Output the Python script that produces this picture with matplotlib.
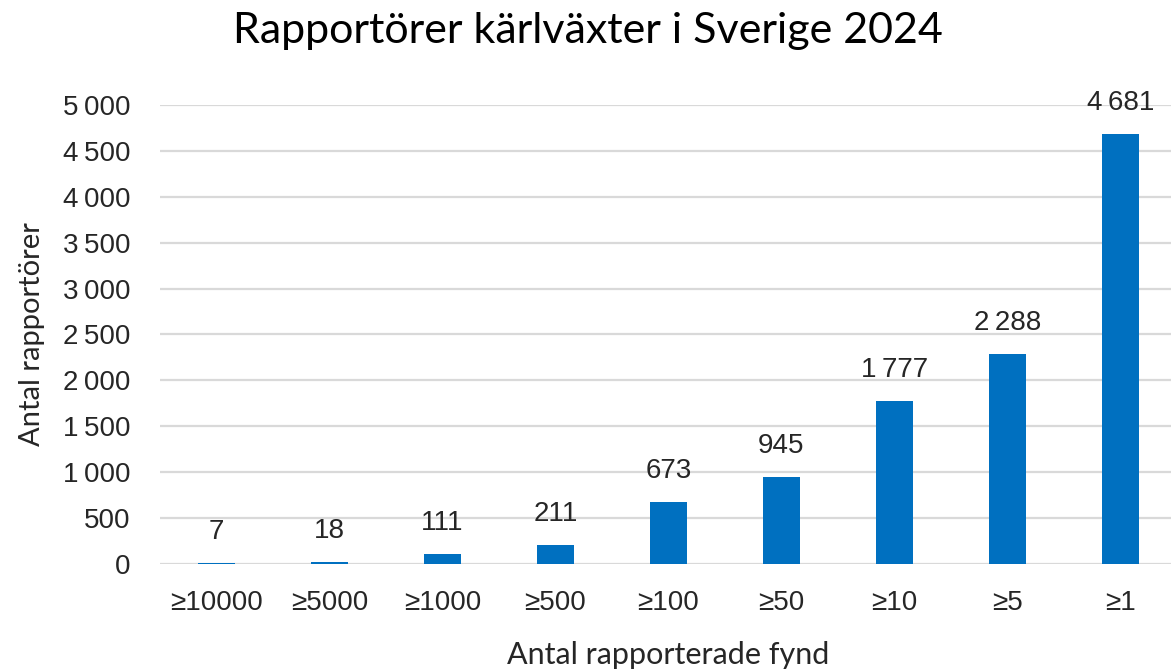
"""Rapportörer kärlväxter i Sverige 2024 - bar chart."""

import matplotlib

matplotlib.use("Agg")
import matplotlib.pyplot as plt
from matplotlib.ticker import FuncFormatter

categories = ["≥10000", "≥5000", "≥1000", "≥500", "≥100", "≥50", "≥10", "≥5", "≥1"]
reporters = [7, 18, 111, 211, 673, 945, 1777, 2288, 4681]
y_ticks = [0, 500, 1000, 1500, 2000, 2500, 3000, 3500, 4000, 4500, 5000]

BAR_COLOR = "#0070C0"
GRID_COLOR = "#D9D9D9"
TEXT_COLOR = "#262626"
TICK_FONT = "Liberation Sans"
TITLE_FONT = ["Liberation Sans Narrow", "Lato"]


def fmt_thousands(v):
    # Swedish style: narrow space as thousands separator
    return f"{int(v):,}".replace(",", "\u2009")


fig = plt.figure(figsize=(11.71, 6.71), dpi=100)
ax = fig.add_axes([0.1366, 0.1595, 0.8685, 0.684])

x = range(len(categories))
ax.bar(x, reporters, width=0.32, color=BAR_COLOR, zorder=3)

for xi, val in zip(x, reporters):
    ax.annotate(
        fmt_thousands(val),
        (xi, val),
        xytext=(0, 13),
        textcoords="offset points",
        ha="center",
        va="bottom",
        fontsize=20,
        family=TICK_FONT,
        color=TEXT_COLOR,
        annotation_clip=False,
    )

ax.set_xlim(-0.5, len(categories) - 0.5)
ax.set_ylim(0, 5000)
ax.set_yticks(y_ticks)
ax.yaxis.set_major_formatter(FuncFormatter(lambda v, _: fmt_thousands(v)))
ax.set_xticks(list(x))
ax.set_xticklabels(categories)

ax.grid(axis="y", color=GRID_COLOR, linewidth=1.6, zorder=0)
ax.set_axisbelow(True)
for side in ax.spines.values():
    side.set_visible(False)
ax.tick_params(axis="both", length=0, labelsize=20, colors=TEXT_COLOR)
for lbl in ax.get_xticklabels() + ax.get_yticklabels():
    lbl.set_family(TICK_FONT)
ax.tick_params(axis="x", pad=19)
ax.tick_params(axis="y", pad=21)

ax.set_ylabel("Antal rapportörer", fontsize=21, family="Lato",
              color=TEXT_COLOR, labelpad=13)
ax.set_xlabel("Antal rapporterade fynd", fontsize=22, family="Lato",
              color=TEXT_COLOR, labelpad=18)
fig.suptitle("Rapportörer kärlväxter i Sverige 2024", fontsize=31,
             family=TITLE_FONT, color="black", y=0.982, x=0.502)

fig.savefig("out.png", dpi=100)
plt.close(fig)
